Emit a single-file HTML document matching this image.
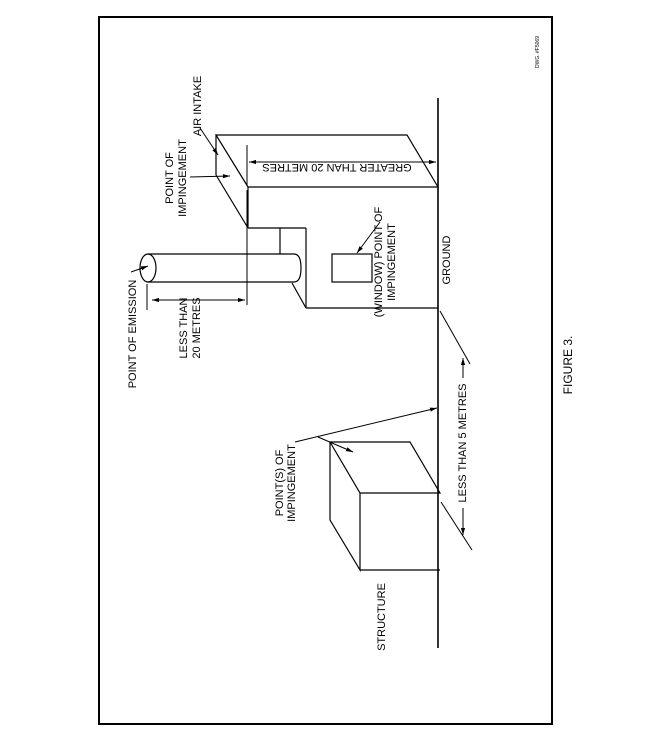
<!DOCTYPE html>
<html><head><meta charset="utf-8"><style>
html,body{margin:0;padding:0;background:#fff;}
svg{display:block;}
text{font-family:"Liberation Sans",sans-serif;font-size:11px;fill:#000;}
</style></head><body>
<svg width="658" height="756" viewBox="0 0 658 756" xmlns="http://www.w3.org/2000/svg">
<defs>
<marker id="a" viewBox="0 0 10 10" refX="10" refY="5" markerWidth="7" markerHeight="7" orient="auto-start-reverse"><path d="M0,2 L10,5 L0,8 z" fill="#000"/></marker>
</defs>
<g fill="none" stroke="#000">
<!-- frame -->
<rect x="99" y="17" width="453" height="707" stroke-width="2"/>
<!-- ground -->
<line x1="438" y1="98" x2="438" y2="648" stroke-width="1.6"/>
<!-- building -->
<g stroke-width="1.2">
<polygon points="216,135 407,135 438,187 248,187"/>
<line x1="216" y1="135" x2="216" y2="175"/>
<line x1="216" y1="175" x2="248" y2="228"/>
<line x1="248" y1="187" x2="248" y2="228"/>
<line x1="248" y1="228" x2="306" y2="228"/>
<line x1="306" y1="228" x2="306" y2="308"/>
<line x1="306" y1="308" x2="438" y2="308"/>
<line x1="280" y1="228" x2="280" y2="254"/>
<line x1="292" y1="283" x2="306" y2="308"/>
<!-- cylinder -->
<path d="M148,254 L294,254 Q301,254 301,268 Q301,282 294,282 L148,282"/>
<ellipse cx="148" cy="268" rx="8" ry="14"/>
<!-- window -->
<rect x="332" y="254" width="40" height="28"/>
</g>
<!-- extension lines -->
<line x1="247" y1="190" x2="247" y2="305" stroke-width="1"/>
<line x1="147" y1="284" x2="147" y2="310" stroke-width="1"/>
<line x1="247" y1="145" x2="247" y2="186" stroke-width="1"/>
<!-- dims -->
<line x1="152" y1="300" x2="245" y2="300" stroke-width="1" marker-start="url(#a)" marker-end="url(#a)"/>
<line x1="249" y1="162" x2="436" y2="162" stroke-width="1" marker-start="url(#a)" marker-end="url(#a)"/>
<!-- leaders -->
<line x1="131" y1="272" x2="148" y2="266" stroke-width="1" marker-end="url(#a)"/>
<line x1="190" y1="177" x2="230" y2="176" stroke-width="1" marker-end="url(#a)"/>
<line x1="200" y1="128" x2="218" y2="155" stroke-width="1" marker-end="url(#a)"/>
<line x1="380" y1="222" x2="357" y2="253" stroke-width="1" marker-end="url(#a)"/>
<line x1="440" y1="311" x2="470" y2="364" stroke-width="1"/>
<line x1="463" y1="378" x2="463" y2="358" stroke-width="1" marker-end="url(#a)"/>
<line x1="463" y1="508" x2="463" y2="535" stroke-width="1" marker-end="url(#a)"/>
<line x1="441" y1="502" x2="472" y2="550" stroke-width="1"/>
<!-- structure cube -->
<g stroke-width="1.2">
<polygon points="330,442 410,442 440,493 360,493"/>
<polyline points="330,442 330,520 360,570 360,493"/>
<line x1="360" y1="570" x2="440" y2="570"/>
</g>
<line x1="295" y1="442" x2="437" y2="408" stroke-width="1" marker-end="url(#a)"/>
<line x1="318" y1="437" x2="353" y2="452" stroke-width="1" marker-end="url(#a)"/>
</g>
<!-- labels -->
<g text-anchor="middle" dominant-baseline="central">
<text transform="translate(133,334) rotate(-90)">POINT OF EMISSION</text>
<text transform="translate(184,328) rotate(-90)">LESS THAN</text>
<text transform="translate(197,328) rotate(-90)">20 METRES</text>
<text transform="translate(170,178) rotate(-90)">POINT OF</text>
<text transform="translate(183,178) rotate(-90)">IMPINGEMENT</text>
<text transform="translate(198,106) rotate(-90)">AIR INTAKE</text>
<text transform="translate(337,167) rotate(180)">GREATER THAN 20 METRES</text>
<text transform="translate(379,262) rotate(-90)">(WINDOW) POINT OF</text>
<text transform="translate(392,262) rotate(-90)">IMPINGEMENT</text>
<text transform="translate(447,260) rotate(-90)">GROUND</text>
<text transform="translate(463,443) rotate(-90)">LESS THAN 5 METRES</text>
<text transform="translate(280,483) rotate(-90)">POINT(S) OF</text>
<text transform="translate(292,483) rotate(-90)">IMPINGEMENT</text>
<text transform="translate(382,617) rotate(-90)">STRUCTURE</text>
<text transform="translate(568,365) rotate(-90)" style="font-size:12px">FIGURE 3.</text>
<text transform="translate(538,52) rotate(-90)" style="font-size:5px">DWG. #F5069</text>
</g>
</svg>
</body></html>
